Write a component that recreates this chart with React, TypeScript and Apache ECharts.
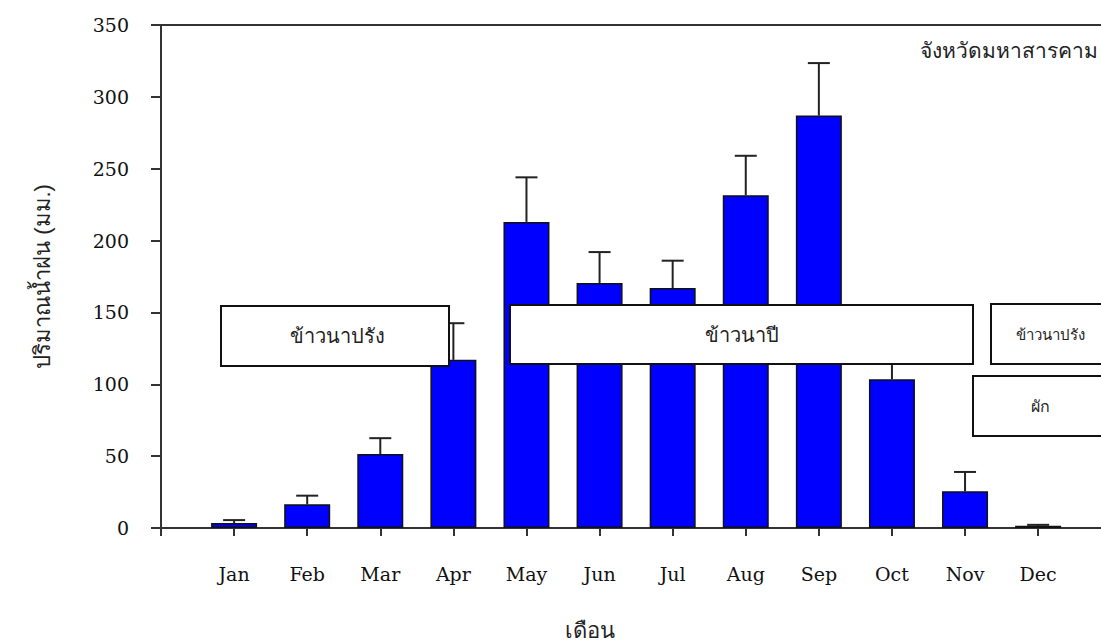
import React, { useEffect, useRef } from "react";
import * as echarts from "echarts";

const months = ["Jan", "Feb", "Mar", "Apr", "May", "Jun", "Jul", "Aug", "Sep", "Oct", "Nov", "Dec"];
const rainfall = [3.5, 16.5, 51.5, 117, 213, 170.5, 167, 231.5, 287, 103.5, 25.5, 1.5];
const errorTop = [5.5, 22.5, 62.5, 142.5, 244, 192, 186, 259, 323.5, 130, 39, 2.2];
const yTicks = [0, 50, 100, 150, 200, 250, 300, 350];

const boxes = [
  { x: 221, y: 306, w: 228, h: 60, text: "ข้าวนาปรัง", size: 20 },
  { x: 510, y: 305, w: 463, h: 59, text: "ข้าวนาปี", size: 20 },
  { x: 991, y: 304, w: 130, h: 60, text: "ข้าวนาปรัง", size: 15 },
  { x: 973, y: 376, w: 150, h: 60, text: "ผัก", size: 16 },
];
const boxTextX = [337, 742, 1050, 1040];

export default function App() {
  const ref = useRef<HTMLDivElement>(null);
  useEffect(() => {
    if (!ref.current) return;
    const chart = echarts.init(ref.current, null, { renderer: "svg" });
    const barData = months.map((_, i) => [i + 1, rainfall[i]]);
    const errData = months.map((_, i) => [i + 1, rainfall[i], errorTop[i]]);
    const graphics: any[] = [];
    boxes.forEach((b, i) => {
      graphics.push({
        type: "rect",
        z: 100,
        shape: { x: b.x, y: b.y, width: b.w, height: b.h },
        style: { fill: "#fff", stroke: "#111", lineWidth: 2 },
      });
      graphics.push({
        type: "text",
        z: 101,
        x: boxTextX[i],
        y: b.y + b.h / 2,
        style: {
          text: b.text,
          fontSize: b.size,
          fontFamily: "sans-serif",
          fill: "#222",
          align: "center",
          verticalAlign: "middle",
        },
      });
    });
    graphics.push({
      type: "text",
      z: 101,
      x: 1098,
      y: 50,
      style: {
        text: "จังหวัดมหาสารคาม",
        fontSize: 21,
        fontFamily: "sans-serif",
        fill: "#222",
        align: "right",
        verticalAlign: "middle",
      },
    });
    graphics.push({
      type: "text",
      z: 101,
      x: 590,
      y: 630,
      style: {
        text: "เดือน",
        fontSize: 22,
        fontFamily: "sans-serif",
        fill: "#222",
        align: "center",
        verticalAlign: "middle",
      },
    });

    chart.setOption({
      animation: false,
      grid: { left: 161, top: 25, bottom: 113, right: 0 },
      xAxis: [
        {
          type: "value",
          min: 0,
          max: 12.86,
          interval: 1,
          splitLine: { show: false },
          axisLine: { show: true, lineStyle: { color: "#333", width: 2 } },
          axisTick: { show: true, inside: false, length: 8, lineStyle: { color: "#333", width: 2 } },
          axisLabel: {
            margin: 36,
            fontFamily: "DejaVu Serif",
            fontSize: 19,
            color: "#111",
            showMaxLabel: false,
            formatter: (v: number) => (Number.isInteger(v) && v >= 1 && v <= 12 ? months[v - 1] : ""),
          },
        },
        {
          type: "value",
          position: "top",
          min: 0,
          max: 12.86,
          splitLine: { show: false },
          axisLine: { show: true, onZero: false, lineStyle: { color: "#333", width: 2 } },
          axisTick: { show: false },
          axisLabel: { show: false },
        },
      ],
      yAxis: {
        type: "value",
        min: yTicks[0],
        max: yTicks[yTicks.length - 1],
        interval: 50,
        name: "ปริมาณน้ำฝน (มม.)",
        nameLocation: "middle",
        nameGap: 108,
        nameRotate: 90,
        nameTextStyle: { fontSize: 22, fontFamily: "sans-serif", color: "#222" },
        splitLine: { show: false },
        axisLine: { show: true, lineStyle: { color: "#333", width: 2 } },
        axisTick: { show: true, length: 10, lineStyle: { color: "#333", width: 2 } },
        axisLabel: { margin: 32, fontFamily: "DejaVu Serif", fontSize: 19, color: "#111" },
      },
      series: [
        {
          type: "custom",
          z: 1,
          data: errData,
          renderItem: (params: any, api: any) => {
            const x = api.value(0);
            const v = api.value(1);
            const e = api.value(2);
            const p0 = api.coord([x, v]);
            const p1 = api.coord([x, e]);
            return {
              type: "group",
              children: [
                {
                  type: "line",
                  shape: { x1: p0[0], y1: p0[1], x2: p1[0], y2: p1[1] },
                  style: { stroke: "#222", lineWidth: 2 },
                },
                {
                  type: "line",
                  shape: { x1: p1[0] - 11, y1: p1[1], x2: p1[0] + 11, y2: p1[1] },
                  style: { stroke: "#222", lineWidth: 2 },
                },
              ],
            };
          },
        },
        {
          type: "bar",
          z: 2,
          data: barData,
          barWidth: 46,
          itemStyle: { color: "#0000FF", borderColor: "#111", borderWidth: 1.5 },
        },
      ],
      graphic: graphics,
    });
    return () => chart.dispose();
  }, []);
  return (
    <div
      ref={ref}
      style={{ position: "fixed", left: 0, top: 0, width: 1101, height: 641, background: "#fff" }}
    />
  );
}
